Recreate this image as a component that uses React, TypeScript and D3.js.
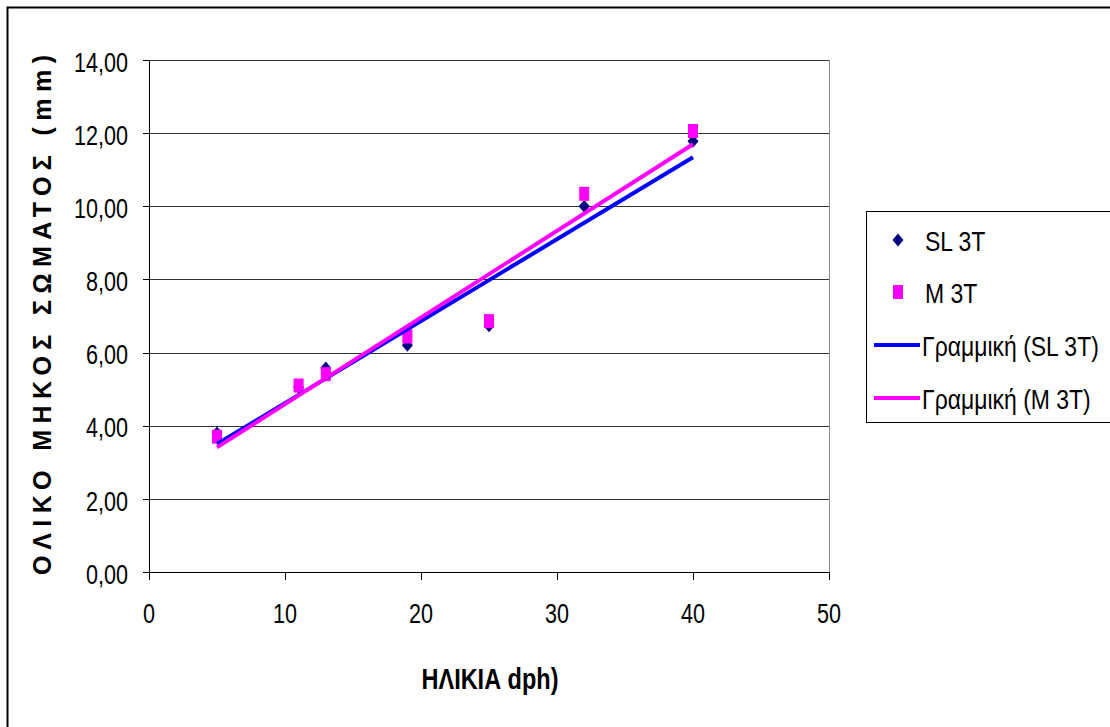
import React from "react";
import * as d3 from "d3";

const ages = [5, 11, 13, 19, 25, 32, 40];
const sl3t = [3.8, 5.05, 5.58, 6.2, 6.73, 10.0, 11.78];
const m3t = [3.7, 5.1, 5.41, 6.44, 6.86, 10.34, 12.06];
const yTicks = [0, 2, 4, 6, 8, 10, 12, 14];
const xTicks = [0, 10, 20, 30, 40, 50];
const seriesNames = ["SL 3T", "M 3T"];
const trendNames = ["Γραμμική (SL 3T)", "Γραμμική (M 3T)"];
const yTitle = "ΟΛΙΚΟ ΜΗΚΟΣ ΣΩΜΑΤΟΣ (mm)";
const xTitle = "ΗΛΙΚΙΑ dph)";

const W = 1110, H = 727;
const left = 149, right = 829, top = 60, bottom = 572;
const SANS = "'Liberation Sans', Arial, sans-serif";
const SX = 0.8;

function fit(xs: number[], ys: number[]) {
  const mx = d3.mean(xs)!, my = d3.mean(ys)!;
  let sxy = 0, sxx = 0;
  xs.forEach((x, i) => { sxy += (x - mx) * (ys[i] - my); sxx += (x - mx) ** 2; });
  const b = sxy / sxx;
  return (x: number) => my + b * (x - mx);
}

function T(props: { x: number; y: number; anchor?: string; size: number; bold?: boolean; sx?: number; children: React.ReactNode; dy?: string }) {
  return (
    <text transform={`translate(${props.x},${props.y}) scale(${props.sx ?? SX},1)`} dy={props.dy}
      textAnchor={props.anchor || "start"} fontFamily={SANS} fontSize={props.size}
      fontWeight={props.bold ? "bold" : "normal"} fill="#000">{props.children}</text>
  );
}

export default function App() {
  const x = d3.scaleLinear().domain([0, 50]).range([left, right]);
  const y = d3.scaleLinear().domain([0, 14]).range([bottom, top]);
  const ext = d3.extent(ages) as [number, number];
  const fSL = fit(ages, sl3t);
  const fM = fit(ages, m3t);
  const slLine = d3.line<number>().x(d => x(d)).y(d => y(fSL(d)))(ext)!;
  const mLine = d3.line<number>().x(d => x(d)).y(d => y(fM(d)))(ext)!;
  const diamond = (cx: number, cy: number, r: number) =>
    `M${cx},${cy - r}L${cx + r * 0.85},${cy}L${cx},${cy + r}L${cx - r * 0.85},${cy}Z`;

  const legX = 866, legY = 211;
  const rows = [240, 292, 345, 398];

  return (
    <svg width={W} height={H} style={{ position: "absolute", left: 0, top: 0, background: "#fff" }}>
      <rect x={0} y={0} width={W} height={H} fill="#fff" />
      <rect x={7.5} y={7.5} width={W + 20} height={H + 20} fill="none" stroke="#000" strokeWidth={2} />
      {yTicks.map(t => (
        <line key={"g" + t} x1={left} x2={right} y1={Math.round(y(t)) + 0.5} y2={Math.round(y(t)) + 0.5}
          stroke={t === 0 ? "#000" : "#333"} strokeWidth={1} />
      ))}
      <line x1={right + 0.5} x2={right + 0.5} y1={top} y2={bottom} stroke="#888" strokeWidth={1} />
      <line x1={left + 0.5} x2={left + 0.5} y1={top} y2={bottom + 1} stroke="#000" strokeWidth={1} />
      {yTicks.map(t => (
        <g key={"yt" + t}>
          <line x1={left - 6} x2={left} y1={Math.round(y(t)) + 0.5} y2={Math.round(y(t)) + 0.5} stroke="#000" />
          <T x={128} y={y(t) + 2} dy="0.36em" anchor="end" size={27}>
            {d3.format(".2f")(t).replace(".", ",")}
          </T>
        </g>
      ))}
      {xTicks.map(t => (
        <g key={"xt" + t}>
          <line x1={Math.round(x(t)) + 0.5} x2={Math.round(x(t)) + 0.5} y1={bottom} y2={bottom + 8} stroke="#000" />
          <T x={x(t)} y={623} anchor="middle" size={27}>{t}</T>
        </g>
      ))}
      {ages.map((a, i) => (
        <path key={"d" + i} d={diamond(x(a), y(sl3t[i]), 6.5)} fill="#000080" />
      ))}
      {ages.map((a, i) => (
        <rect key={"s" + i} x={x(a) - 5} y={y(m3t[i]) - 7} width={10} height={14} fill="#FF00FF" />
      ))}
      <path d={slLine} stroke="#0000FF" strokeWidth={4} fill="none" />
      <path d={mLine} stroke="#FF00FF" strokeWidth={4} fill="none" />
      <T x={(left + right) / 2 + 1} y={689} anchor="middle" size={29} sx={0.81} bold>{xTitle}</T>
      <text transform={`translate(51,315) rotate(-90)`} textAnchor="middle"
        fontFamily={SANS} fontWeight="bold" fontSize={25} textLength={520} lengthAdjust="spacing" fill="#000">{yTitle}</text>
      <rect x={legX + 0.5} y={legY + 0.5} width={300} height={211} fill="#fff" stroke="#000" strokeWidth={1} />
      <path d={diamond(898, rows[0], 6.5)} fill="#000080" />
      <rect x={893} y={rows[1] - 7} width={10} height={14} fill="#FF00FF" />
      <line x1={874} x2={920} y1={rows[2]} y2={rows[2]} stroke="#0000FF" strokeWidth={4} />
      <line x1={874} x2={920} y1={rows[3]} y2={rows[3]} stroke="#FF00FF" strokeWidth={4} />
      {[...seriesNames, ...trendNames].map((s, i) => (
        <T key={s} x={i < 2 ? 925 : 922} y={rows[i] + 1} dy="0.36em" size={28} sx={0.82}>{s}</T>
      ))}
    </svg>
  );
}
